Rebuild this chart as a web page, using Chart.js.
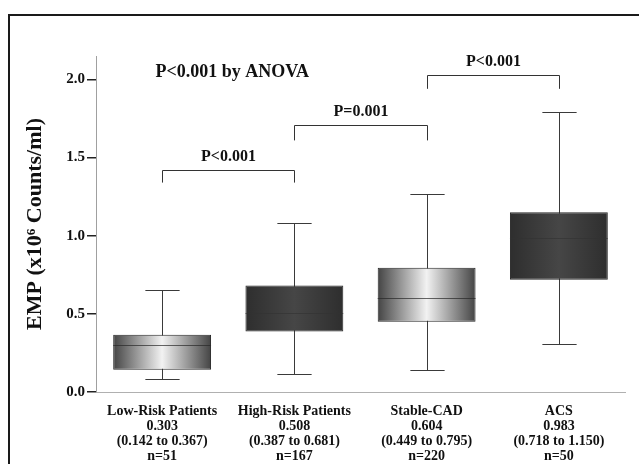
<!DOCTYPE html>
<html>
<head>
<meta charset="utf-8">
<title>EMP box plot</title>
<script src="https://cdn.jsdelivr.net/npm/chart.js@4.4.1/dist/chart.umd.min.js"></script>
<style>
  html, body { margin: 0; padding: 0; background: #fff; }
  #wrap { width: 639px; height: 464px; }
</style>
</head>
<body>
<div id="wrap"><canvas id="emp-chart" width="639" height="464"></canvas></div>
<script>
// datos
var groupNames = ['Low-Risk Patients', 'High-Risk Patients', 'Stable-CAD', 'ACS'];
var counts = [51, 167, 220, 50];
var medians = [0.303, 0.508, 0.604, 0.983];
var q1 = [0.142, 0.387, 0.449, 0.718];
var q3 = [0.367, 0.681, 0.795, 1.150];
var whiskerLow = [0.08, 0.115, 0.14, 0.305];
var whiskerHigh = [0.655, 1.08, 1.265, 1.79];
var yTicks = [0.0, 0.5, 1.0, 1.5, 2.0];

// comparaciones entre grupos
var bracketFrom = [0, 1, 2];
var bracketTo = [1, 2, 3];
var bracketText = ['P<0.001', 'P=0.001', 'P<0.001'];
var bracketTop = [1.42, 1.71, 2.03];
var bracketDrop = [1.34, 1.61, 1.94];
var anovaText = 'P<0.001 by ANOVA';

var serif = '"Liberation Serif", "DejaVu Serif", serif';
var lightBoxes = [true, false, true, false];

var xLabels = groupNames.map(function(name, i) {
    return [name, medians[i].toFixed(3), '(' + q1[i].toFixed(3) + ' to ' + q3[i].toFixed(3) + ')', 'n=' + counts[i]];
});

function boxFill(c) {
    var chart = c.chart;
    var xs = chart.scales.x;
    if (!xs || !chart.chartArea) return '#555';
    var cx = xs.getPixelForValue(c.dataIndex);
    var half = xs.width / groupNames.length * 0.74 / 2;
    var g = chart.ctx.createLinearGradient(cx - half, 0, cx + half, 0);
    if (lightBoxes[c.dataIndex]) {
        g.addColorStop(0, '#444');
        g.addColorStop(0.5, '#f2f2f2');
        g.addColorStop(1, '#444');
    } else {
        g.addColorStop(0, '#2e2e2e');
        g.addColorStop(0.5, '#464646');
        g.addColorStop(1, '#2e2e2e');
    }
    return g;
}

var boxPlotExtras = {
    id: 'boxPlotExtras',
    beforeDatasetsDraw: function(chart) {
        // bigotes detras de las cajas
        var ctx = chart.ctx, y = chart.scales.y;
        var meta = chart.getDatasetMeta(0);
        ctx.save();
        ctx.strokeStyle = '#3a3a3a';
        ctx.lineWidth = 1;
        meta.data.forEach(function(bar, i) {
            var cx = Math.round(bar.x) + 0.5;
            var capHalf = bar.width * 0.175;
            var top = Math.round(y.getPixelForValue(whiskerHigh[i])) + 0.5;
            var bottom = Math.round(y.getPixelForValue(whiskerLow[i])) + 0.5;
            ctx.beginPath();
            ctx.moveTo(cx, top); ctx.lineTo(cx, bottom);
            ctx.moveTo(cx - capHalf, top); ctx.lineTo(cx + capHalf, top);
            ctx.moveTo(cx - capHalf, bottom); ctx.lineTo(cx + capHalf, bottom);
            ctx.stroke();
        });
        ctx.restore();
    },
    afterDatasetsDraw: function(chart) {
        // medianas
        var ctx = chart.ctx, y = chart.scales.y;
        var meta = chart.getDatasetMeta(0);
        ctx.save();
        ctx.lineWidth = 1;
        meta.data.forEach(function(bar, i) {
            var my = Math.round(y.getPixelForValue(medians[i])) + 0.5;
            ctx.strokeStyle = lightBoxes[i] ? 'rgba(40,40,40,0.7)' : 'rgba(50,50,50,0.6)';
            ctx.beginPath();
            ctx.moveTo(bar.x - bar.width / 2, my);
            ctx.lineTo(bar.x + bar.width / 2, my);
            ctx.stroke();
        });
        ctx.restore();
    },
    afterDraw: function(chart) {
        var ctx = chart.ctx, x = chart.scales.x, y = chart.scales.y;
        ctx.save();
        // marco
        ctx.strokeStyle = '#1a1a1a';
        ctx.lineWidth = 2;
        ctx.strokeRect(9, 15, chart.width + 10, chart.height + 10);

        ctx.strokeStyle = '#333';
        ctx.lineWidth = 1;
        ctx.fillStyle = '#111';
        ctx.font = 'bold 16px ' + serif;
        ctx.textAlign = 'center';
        ctx.textBaseline = 'middle';
        for (var i = 0; i < bracketText.length; i++) {
            var x0 = Math.round(x.getPixelForValue(bracketFrom[i])) + 0.5;
            var x1 = Math.round(x.getPixelForValue(bracketTo[i])) + 0.5;
            var yt = Math.round(y.getPixelForValue(bracketTop[i])) + 0.5;
            var yd = y.getPixelForValue(bracketDrop[i]);
            ctx.beginPath();
            ctx.moveTo(x0, yd); ctx.lineTo(x0, yt); ctx.lineTo(x1, yt); ctx.lineTo(x1, yd);
            ctx.stroke();
            ctx.fillText(bracketText[i], (x0 + x1) / 2, yt - 14);
        }
        ctx.font = 'bold 18px ' + serif;
        ctx.fillText(anovaText, x.getPixelForValue(0.53), y.getPixelForValue(2.045));
        ctx.restore();
    }
};

var ctxBox = document.getElementById('emp-chart').getContext('2d');
var boxChart = new Chart(ctxBox, {
    type: 'bar',
    data: {
        labels: xLabels,
        datasets: [{
            label: 'EMP',
            data: groupNames.map(function(_, i) { return [q1[i], q3[i]]; }),
            backgroundColor: boxFill,
            borderColor: '#262626',
            borderWidth: 1,
            borderSkipped: false,
            categoryPercentage: 1,
            barPercentage: 0.74
        }]
    },
    options: {
        responsive: false,
        animation: false,
        events: [],
        layout: { padding: { left: 8, top: 56, right: 14, bottom: 0 } },
        plugins: {
            legend: { display: false },
            tooltip: { enabled: false }
        },
        scales: {
            x: {
                grid: { display: false },
                border: { display: true, color: '#b0b0b0', dash: [2, 1], width: 1 },
                ticks: {
                    color: '#111',
                    font: { family: serif, size: 14, weight: 'bold', lineHeight: 1.07 },
                    padding: 4,
                    maxRotation: 0,
                    autoSkip: false
                },
                afterFit: function(scale) { scale.height = 72; }
            },
            y: {
                min: 0,
                max: 2.15,
                afterBuildTicks: function(scale) {
                    scale.ticks = yTicks.map(function(v) { return { value: v }; });
                },
                grid: { drawOnChartArea: false, drawTicks: true, tickLength: 9, color: '#222', lineWidth: 1.5 },
                border: { display: true, color: '#a0a0a0', dash: [2, 1], width: 1 },
                ticks: {
                    color: '#111',
                    font: { family: serif, size: 15, weight: 'bold' },
                    padding: 2,
                    callback: function(v) { return Number(v).toFixed(1); }
                },
                title: {
                    display: true,
                    text: 'EMP (x10\u2076 Counts/ml)',
                    color: '#111',
                    font: { family: serif, size: 22, weight: 'bold' },
                    padding: { top: 14, bottom: 0 }
                },
                afterFit: function(scale) { scale.width = 88; }
            }
        }
    },
    plugins: [boxPlotExtras]
});
</script>
</body>
</html>
